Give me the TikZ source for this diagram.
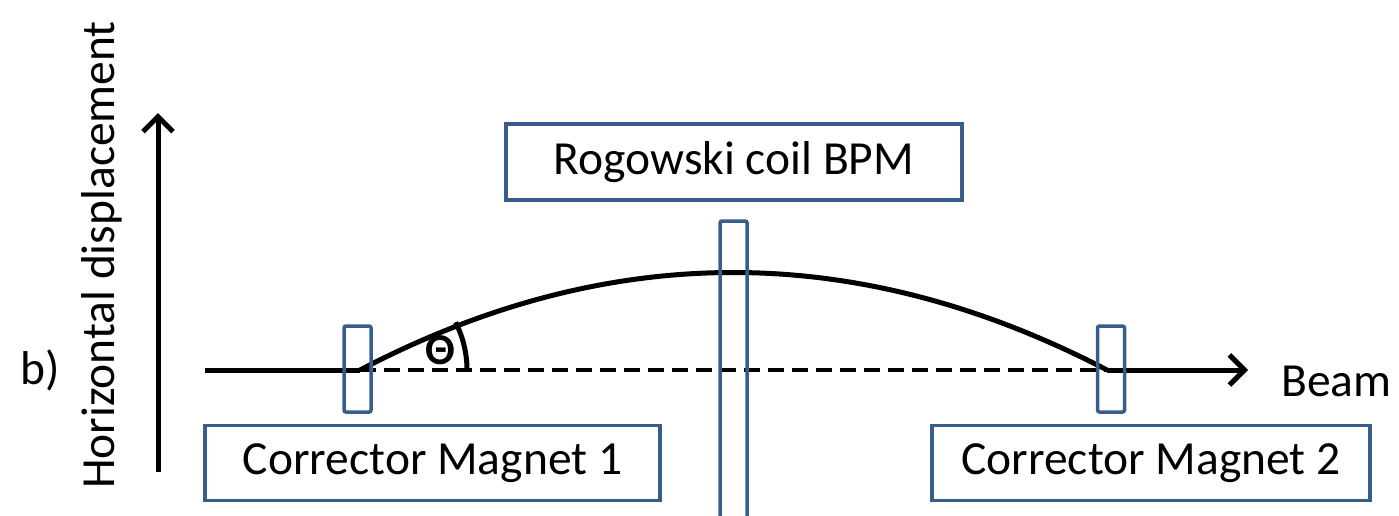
\documentclass[tikz,border=0pt]{standalone}
\usepackage{fontspec}
\setmainfont{Carlito}
\usetikzlibrary{arrows.meta}
\definecolor{boxblue}{RGB}{56,93,138}
\begin{document}
\begin{tikzpicture}[x=1pt,y=-1pt,
  lbl/.style={font=\fontsize{47.5}{56}\selectfont, inner sep=0pt},
  labelbox/.style={draw=boxblue, line width=3.5pt, fill=white, inner sep=0pt},
  bar/.style={draw=boxblue, line width=3.5pt, rounded corners=2pt},
  thick line/.style={line width=5pt, black},
  tip/.style={-{Straight Barb[length=15pt,width=30pt,line width=5pt]}}
]
\useasboundingbox (0,0) rectangle (1399,515);
% axis
\coordinate (ybot) at (158,472);
\coordinate (ytop) at (158,113);
\draw[thick line, tip] (ybot) -- (ytop);
\node[lbl, rotate=90] (ylabel) at (102,255) {Horizontal displacement};
\node[lbl] (b) at (40,370) {b)};
% beam line
\coordinate (bstart) at (205,370);
\coordinate (m1) at (360,370);
\coordinate (m2) at (1107,370);
\coordinate (bend) at (1248,370);
\draw[thick line, dash pattern=on 16pt off 8pt, line width=4.5pt] (m1) -- (m2);
\draw[thick line] (bstart) -- (m1);
\draw[thick line, tip] (m2) -- (bend);
\node[lbl, anchor=west] (beam) at (1281,381) {Beam};
% trajectory
\coordinate (peak) at (733,272);
\draw[thick line] (m1) .. controls (609,240) and (857,240) .. (m2);
% angle
\draw[line width=5pt] (467,370) arc[start angle=0, end angle=-27, radius=105];
\node[font=\bfseries\fontsize{44}{50}\selectfont, inner sep=0pt] (theta) at (440,350) {Θ};
% bars
\node[bar, minimum width=27pt, minimum height=86pt] (cm1bar) at (357.5,369) {};
\node[bar, minimum width=27pt, minimum height=86pt] (cm2bar) at (1111,369) {};
\draw[bar] (720,221) rectangle (747,530);
% label boxes
\node[labelbox, minimum width=456pt, minimum height=76pt] (bpm) at (734,162) {};
\node[lbl] (bpmtxt) at (bpm.center) {Rogowski coil BPM};
\node[labelbox, minimum width=455pt, minimum height=75pt] (cm1) at (432.5,463) {};
\node[lbl] (cm1txt) at (cm1.center) {Corrector Magnet 1};
\node[labelbox, minimum width=438pt, minimum height=75pt] (cm2) at (1151,463) {};
\node[lbl] (cm2txt) at (cm2.center) {Corrector Magnet 2};
\end{tikzpicture}
\end{document}
